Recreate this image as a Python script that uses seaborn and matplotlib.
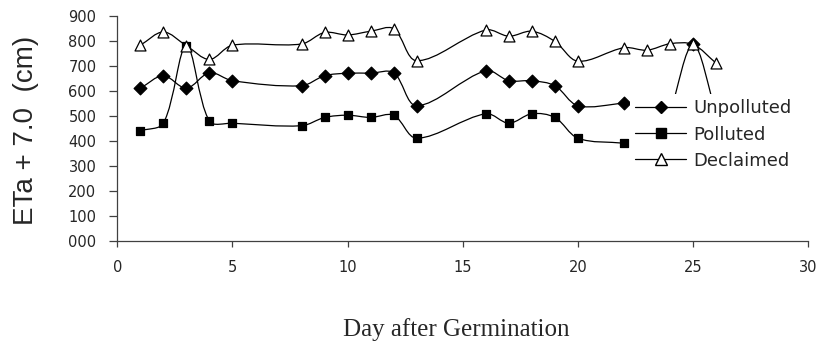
import numpy as np
import pandas as pd
import matplotlib
matplotlib.use("Agg")
import matplotlib.pyplot as plt
import seaborn as sns
from matplotlib.path import Path
from matplotlib.patches import PathPatch
from matplotlib.lines import Line2D

# ---------------- data ----------------
days_unpolluted = [1, 2, 3, 4, 5, 8, 9, 10, 11, 12, 13, 16, 17, 18, 19, 20, 22, 23, 24, 25, 26]
unpolluted = [610, 660, 610, 672, 640, 620, 660, 670, 670, 672, 540, 680, 640, 640, 620, 540, 550,
              np.nan, 510, 785, 510]
days_polluted = [1, 2, 3, 4, 5, 8, 9, 10, 11, 12, 13, 16, 17, 18, 19, 20, 22]
polluted = [440, 470, 780, 478, 470, 460, 493, 502, 493, 502, 410, 508, 470, 508, 493, 410, 390]
days_declaimed = [1, 2, 3, 4, 5, 8, 9, 10, 11, 12, 13, 16, 17, 18, 19, 20, 22, 23, 24, 25, 26]
declaimed = [782, 835, 780, 725, 782, 787, 833, 823, 838, 848, 720, 843, 818, 838, 797, 718,
             772, 762, 788, 785, 710]
series_names = ["Unpolluted", "Polluted", "Declaimed"]
x_ticks = [0, 5, 10, 15, 20, 25, 30]
y_ticks = [0, 100, 200, 300, 400, 500, 600, 700, 800, 900]
y_tick_labels = ["000", "100", "200", "300", "400", "500", "600", "700", "800", "900"]

# ---------------- style ----------------
sns.set_style("white")
plt.rcParams["font.family"] = ["DejaVu Sans"]

fig = plt.figure(figsize=(8.21, 3.41), dpi=100)
ax = fig.add_axes([0.1429, 0.2941, 0.8416, 0.6598])
ax.set_xlim(0, 30)
ax.set_ylim(0, 900)


def smooth_path(xs, ys):
    """Excel-like smoothed line: cubic Bezier through the points, tangent = neighbour
    difference, control arm lengths proportional to the adjacent segment lengths
    (computed in pixel space)."""
    data = np.column_stack([np.asarray(xs, float), np.asarray(ys, float)])
    verts, codes = [], []
    runs, cur = [], []
    for p in data:
        if np.isnan(p[1]):
            if cur:
                runs.append(np.array(cur))
            cur = []
        else:
            cur.append(p)
    if cur:
        runs.append(np.array(cur))
    inv = ax.transData.inverted()
    for r in runs:
        n = len(r)
        if n < 2:
            continue
        P = ax.transData.transform(r)
        seg = np.hypot(*np.diff(P, axis=0).T)
        out_c, in_c = [], []
        for i in range(n):
            if i == 0:
                d = P[1] - P[0]
                la, lb = 0.0, seg[0]
                tot = lb
                out_c.append(P[0] + d / 3.0)
                in_c.append(P[0])
                continue
            if i == n - 1:
                d = P[i] - P[i - 1]
                in_c.append(P[i] - d / 3.0)
                out_c.append(P[i])
                continue
            d = P[i + 1] - P[i - 1]
            la, lb = seg[i - 1], seg[i]
            tot = la + lb
            in_c.append(P[i] - d * (la / tot) / 3.0)
            out_c.append(P[i] + d * (lb / tot) / 3.0)
        verts.append(P[0]); codes.append(Path.MOVETO)
        for i in range(n - 1):
            verts += [out_c[i], in_c[i + 1], P[i + 1]]
            codes += [Path.CURVE4] * 3
    return Path(inv.transform(np.array(verts)), codes)


series = [
    ("Unpolluted", days_unpolluted, unpolluted, "D", "black", 42),
    ("Polluted", days_polluted, polluted, "s", "black", 40),
    ("Declaimed", days_declaimed, declaimed, "^", "white", 62),
]

for name, d, v, m, fc, s in series:
    ax.add_patch(PathPatch(smooth_path(d, v), facecolor="none", edgecolor="black",
                           lw=0.9, zorder=2))
    df = pd.DataFrame({"day": d, "value": v}).dropna()
    sns.scatterplot(data=df, x="day", y="value", marker=m, s=s, color=fc,
                    edgecolor="black", linewidth=0.9, ax=ax, zorder=3, legend=False)

ax.set_xlim(0, 30)
ax.set_ylim(0, 900)
ax.set_xticks(x_ticks)
ax.set_yticks(y_ticks)
ax.set_yticklabels(y_tick_labels)
ax.set_xlabel("")
ax.set_ylabel("")
for sp in ["top", "right"]:
    ax.spines[sp].set_visible(False)
for sp in ["left", "bottom"]:
    ax.spines[sp].set_color("#404040")
    ax.spines[sp].set_linewidth(0.9)
ax.tick_params(axis="y", direction="out", length=6, width=0.9, color="#404040",
               pad=9, labelsize=10.5, left=True)
ax.tick_params(axis="x", direction="out", length=4, width=0.9, color="#404040",
               pad=10, labelsize=10.5, bottom=True)

handles = [
    Line2D([], [], color="black", lw=0.9, marker="D", markersize=6.5,
           markerfacecolor="black", markeredgecolor="black"),
    Line2D([], [], color="black", lw=0.9, marker="s", markersize=6.5,
           markerfacecolor="black", markeredgecolor="black"),
    Line2D([], [], color="black", lw=0.9, marker="^", markersize=8,
           markerfacecolor="white", markeredgecolor="black"),
]
leg = ax.legend(handles, series_names, loc="upper left", bbox_to_anchor=(0.742, 0.652),
                frameon=True, fancybox=False, framealpha=1, facecolor="white",
                edgecolor="none", fontsize=13, handlelength=2.8, handletextpad=0.4,
                labelspacing=0.45, borderpad=0.3, borderaxespad=0)
leg.set_zorder(10)

fig.text(26 / 821, 1 - 130 / 341, "ETa + 7.0  (cm)", rotation=90, ha="center",
         va="center", fontsize=20, family=["Liberation Sans", "DejaVu Sans"])
fig.text(456 / 821, 1 - 336 / 341, "Day after Germination", ha="center", va="baseline",
         fontsize=18, family=["Liberation Serif", "DejaVu Serif"])

fig.savefig("out.png", dpi=100)
